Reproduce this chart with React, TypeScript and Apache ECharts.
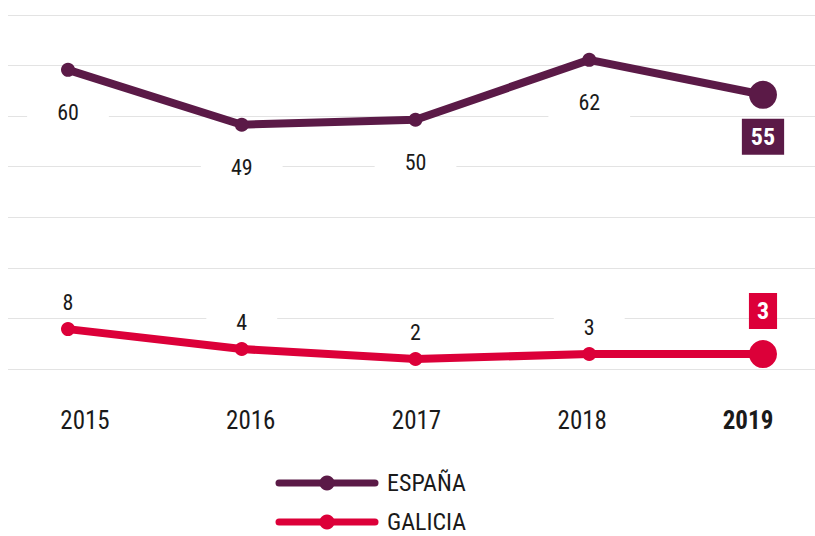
import React, { useEffect, useRef } from "react";
import * as echarts from "echarts";

const years = [2015, 2016, 2017, 2018, 2019];
const yearLabels = ["2015", "2016", "2017", "2018", "2019"];
const espana = [60, 49, 50, 62, 55];
const galicia = [8, 4, 2, 3, 3];
const seriesNames = ["ESPAÑA", "GALICIA"];

const FONT =
  '"Roboto Condensed", "Noto Sans SemiCondensed", "Noto Sans Condensed", "Open Sans SemiCondensed", "Open Sans Condensed", "DejaVu Sans Condensed", sans-serif';
const PURPLE = "#5b1a47";
const RED = "#dc0039";
const TEXT = "#1a1a1a";

function buildData(values: number[], color: string, lastDist: number, hpad: number) {
  const last = values.length - 1;
  return values.map((v, i) =>
    i === last
      ? {
          value: [years[i], v],
          symbolSize: 28,
          label: {
            distance: lastDist,
            color: "#fff",
            fontWeight: "bold",
            fontSize: 24,
            backgroundColor: color,
            padding: [6, hpad, 6, hpad],
          },
        }
      : { value: [years[i], v] }
  );
}

export default function App() {
  const ref = useRef<HTMLDivElement>(null);
  useEffect(() => {
    if (!ref.current) return;
    const chart = echarts.init(ref.current, null, { renderer: "svg" });
    const last = yearLabels.length - 1;
    chart.setOption({
      animation: false,
      backgroundColor: "#fff",
      textStyle: { fontFamily: FONT },
      grid: [
        { left: 8, right: 0, top: 15, bottom: 167 },
        { left: 85, right: 67, top: 15, bottom: 167 },
      ],
      xAxis: [
        {
          gridIndex: 0,
          type: "value",
          min: 2014.6547,
          max: 2019.2993,
          axisLabel: { show: false },
          axisTick: { show: false },
          splitLine: { show: false },
          axisLine: {
            show: true,
            lineStyle: {
              color: "#222",
              width: 2,
              shadowColor: "rgba(0,0,0,0.35)",
              shadowOffsetY: 1.5,
              shadowBlur: 1,
            },
          },
        },
        {
          gridIndex: 1,
          type: "category",
          boundaryGap: false,
          data: yearLabels,
          axisLine: { show: false },
          axisTick: { show: false },
          axisLabel: {
            interval: 0,
            margin: 39,
            fontSize: 25,
            color: TEXT,
            fontFamily: FONT,
            formatter: (v: string, i: number) => (i === last ? `{b|${v}}` : v),
            rich: {
              b: { fontSize: 25, fontWeight: "bold", color: TEXT, fontFamily: FONT },
            },
          },
        },
      ],
      yAxis: [
        {
          gridIndex: 0,
          type: "value",
          min: 0,
          max: 70,
          interval: 10,
          axisLabel: { show: false },
          axisLine: { show: false },
          axisTick: { show: false },
          splitLine: { show: true, lineStyle: { color: "#e3e3e3", width: 1 } },
        },
        {
          gridIndex: 0,
          type: "value",
          min: 0,
          max: 71,
          show: false,
          splitLine: { show: false },
        },
        { gridIndex: 1, type: "value", show: false, splitLine: { show: false } },
      ],
      legend: {
        orient: "vertical",
        left: 275.5,
        top: 471,
        height: 80,
        padding: 0,
        itemWidth: 96,
        itemHeight: 19,
        itemGap: 15,
        data: seriesNames,
        lineStyle: { width: 7, cap: "round" },
        textStyle: {
          fontSize: 24,
          lineHeight: 24,
          color: TEXT,
          fontFamily: FONT,
          padding: [0, 0, 0, 7],
        },
      },
      series: [
        {
          name: seriesNames[0],
          type: "line",
          xAxisIndex: 0,
          yAxisIndex: 1,
          data: buildData(espana, PURPLE, 10, 9),
          symbol: "circle",
          symbolSize: 14,
          color: PURPLE,
          lineStyle: { width: 8, color: PURPLE, cap: "round" },
          itemStyle: { color: PURPLE },
          label: {
            show: true,
            position: "bottom",
            distance: 20,
            formatter: (p: any) => String(p.value[1]),
            fontSize: 22,
            color: TEXT,
            backgroundColor: "#fff",
            padding: [5, 30],
            fontFamily: FONT,
          },
          z: 3,
        },
        {
          name: seriesNames[1],
          type: "line",
          xAxisIndex: 0,
          yAxisIndex: 1,
          data: buildData(galicia, RED, 11, 8),
          symbol: "circle",
          symbolSize: 14,
          color: RED,
          lineStyle: { width: 8, color: RED, cap: "round" },
          itemStyle: { color: RED },
          label: {
            show: true,
            position: "top",
            distance: 7,
            formatter: (p: any) => String(p.value[1]),
            fontSize: 22,
            color: TEXT,
            backgroundColor: "#fff",
            padding: [2, 30],
            fontFamily: FONT,
          },
          z: 3,
        },
      ],
    });
    return () => chart.dispose();
  }, []);
  return (
    <div
      ref={ref}
      style={{ position: "fixed", left: 0, top: 0, width: 815, height: 536 }}
    />
  );
}
